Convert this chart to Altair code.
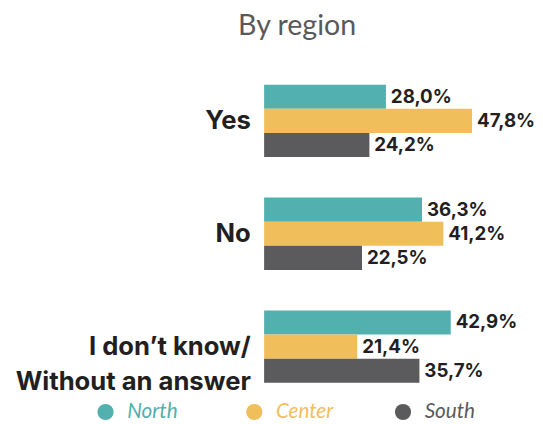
import altair as alt
import pandas as pd

categories = ["Yes", "No", "I don’t know/|Without an answer"]
regions = ["North", "Center", "South"]
north = [28.0, 36.3, 42.9]
center = [47.8, 41.2, 21.4]
south = [24.2, 22.5, 35.7]
colors = ["#52B0AE", "#F0BF5B", "#5B5B5D"]
title_text = ["By region"]

rows = []
for i, c in enumerate(categories):
    for r, vals in zip(regions, [north, center, south]):
        rows.append({"category": c, "region": r, "value": vals[i]})
df = pd.DataFrame(rows)

W = 265
H = 344
TXT = "#231F20"

y_scale = alt.Scale(domain=categories, paddingInner=0.359, paddingOuter=0.18)
x_scale = alt.Scale(domain=[0, 60], nice=False, zero=True)
color_scale = alt.Scale(domain=regions, range=colors)

base = alt.Chart(df).encode(
    y=alt.Y(
        "category:N",
        scale=y_scale,
        axis=alt.Axis(
            title=None, ticks=False, domain=False, grid=False,
            labelPadding=14, labelFont="Inter", labelFontWeight="bold",
            labelFontSize=26, labelColor=TXT, labelLimit=0,
            labelLineHeight=36, labelExpr="split(datum.value, '|')",
        ),
    ),
    yOffset=alt.YOffset("region:N", scale=alt.Scale(domain=regions, paddingInner=0, paddingOuter=0)),
)

bars = base.mark_bar().encode(
    x=alt.X("value:Q", scale=x_scale, axis=None),
    color=alt.Color("region:N", scale=color_scale, legend=None),
)

labels = base.transform_calculate(
    label="replace(format(datum.value, '.1f'), '.', ',') + '%'"
).mark_text(
    align="left", baseline="middle", dx=5, font="Inter", fontWeight="bold",
    fontSize=19, color=TXT,
).encode(
    x=alt.X("value:Q", scale=x_scale, axis=None),
    text="label:N",
)

title = alt.Chart(pd.DataFrame({"t": title_text})).mark_text(
    align="center", baseline="alphabetic", font="Lato", fontSize=29, color="#58595B",
).encode(text="t:N", x=alt.value(33.5), y=alt.value(-30))

leg_df = pd.DataFrame({"region": regions})
leg_x = alt.X("region:N", scale=alt.Scale(type="point", domain=regions, range=[-161, 141], padding=0), axis=None)
leg_pts = alt.Chart(leg_df).mark_point(filled=True, shape="circle", size=270, opacity=1).encode(
    x=leg_x, y=alt.value(353),
    color=alt.Color("region:N", scale=color_scale, legend=None),
)
leg_txt = alt.Chart(leg_df).mark_text(
    align="left", baseline="middle", dx=22, font="Lato", fontStyle="italic", fontSize=21,
).encode(
    x=leg_x, y=alt.value(353), text="region:N",
    color=alt.Color("region:N", scale=color_scale, legend=None),
)

chart = alt.layer(bars, labels, title, leg_pts, leg_txt).resolve_scale(
    x="independent"
).properties(
    width=W, height=H,
    autosize=alt.AutoSizeParams(type="none"),
    padding={"left": 260, "top": 54, "right": 10, "bottom": 18},
).configure_view(stroke=None)

chart.save("out.html", embed_options={"renderer": "svg", "actions": False})
